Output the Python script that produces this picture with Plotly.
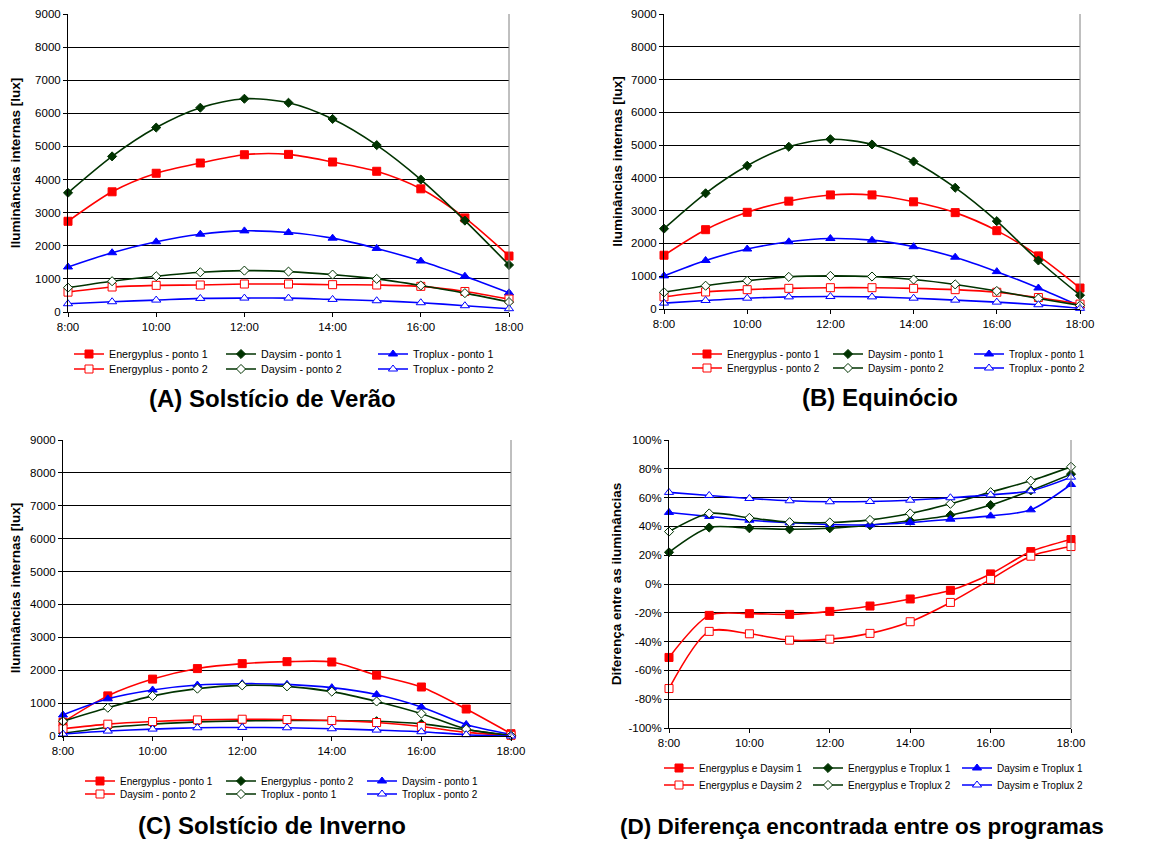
import plotly.graph_objects as go

# ---------------- data ----------------
hours = [8, 9, 10, 11, 12, 13, 14, 15, 16, 17, 18]
x_tickvals = [8, 10, 12, 14, 16, 18]
x_ticktext = ["8:00", "10:00", "12:00", "14:00", "16:00", "18:00"]
lux_ticks = [0, 1000, 2000, 3000, 4000, 5000, 6000, 7000, 8000, 9000]
pct_ticks = [-100, -80, -60, -40, -20, 0, 20, 40, 60, 80, 100]
pct_ticktext = ["-100%", "-80%", "-60%", "-40%", "-20%", "0%", "20%", "40%", "60%", "80%", "100%"]

# (A) Solstício de Verão
a_names = ["Energyplus - ponto 1", "Daysim - ponto 1", "Troplux - ponto 1",
           "Energyplus - ponto 2", "Daysim - ponto 2", "Troplux - ponto 2"]
a_energyplus_p1 = [2740, 3630, 4190, 4500, 4750, 4760, 4530, 4250, 3720, 2840, 1690]
a_daysim_p1 = [3600, 4700, 5570, 6170, 6440, 6320, 5830, 5040, 4000, 2760, 1420]
a_troplux_p1 = [1360, 1790, 2120, 2350, 2450, 2400, 2230, 1920, 1540, 1080, 580]
a_energyplus_p2 = [600, 755, 805, 815, 845, 845, 825, 815, 775, 620, 390]
a_daysim_p2 = [735, 930, 1080, 1200, 1250, 1220, 1130, 1000, 800, 570, 300]
a_troplux_p2 = [250, 310, 360, 410, 420, 420, 380, 340, 280, 190, 100]

# (B) Equinócio
b_names = a_names
b_energyplus_p1 = [1640, 2420, 2950, 3290, 3480, 3480, 3270, 2940, 2390, 1620, 640]
b_daysim_p1 = [2450, 3530, 4370, 4950, 5180, 5020, 4500, 3700, 2680, 1480, 420]
b_troplux_p1 = [1010, 1480, 1830, 2050, 2150, 2100, 1900, 1580, 1140, 640, 90]
b_energyplus_p2 = [370, 520, 590, 630, 650, 650, 630, 590, 510, 350, 150]
b_daysim_p2 = [510, 710, 860, 980, 1010, 990, 900, 750, 550, 320, 110]
b_troplux_p2 = [180, 260, 330, 370, 380, 370, 330, 270, 210, 130, 20]

# (C) Solstício de Inverno
c_names = ["Energyplus - ponto 1", "Energyplus - ponto 2", "Daysim - ponto 1",
           "Daysim - ponto 2", "Troplux - ponto 1", "Troplux - ponto 2"]
c_energyplus_p1 = [420, 1220, 1730, 2050, 2200, 2260, 2250, 1850, 1490, 820, 70]
c_energyplus_p2 = [80, 260, 360, 430, 460, 470, 470, 450, 370, 190, 20]
c_daysim_p1 = [640, 1130, 1400, 1550, 1590, 1570, 1470, 1260, 880, 350, 50]
c_daysim_p2 = [220, 360, 440, 490, 510, 500, 470, 410, 290, 110, 20]
c_troplux_p1 = [450, 860, 1220, 1440, 1540, 1510, 1350, 1050, 680, 210, 10]
c_troplux_p2 = [60, 150, 210, 250, 260, 250, 220, 180, 130, 40, 0]

# (D) Diferença encontrada entre os programas (%)
d_names = ["Energyplus e Daysim 1", "Energyplus e Troplux 1", "Daysim e Troplux 1",
           "Energyplus e Daysim 2", "Energyplus e Troplux 2", "Daysim e Troplux 2"]
d_ep_daysim_1 = [-51.0, -21.8, -20.6, -21.1, -19.0, -15.3, -10.4, -4.4, 7.0, 22.5, 30.9]
d_ep_troplux_1 = [22.0, 39.2, 38.7, 38.0, 38.7, 40.8, 43.9, 47.8, 54.8, 65.0, 76.3]
d_daysim_troplux_1 = [49.7, 46.9, 44.3, 42.5, 41.3, 41.1, 42.7, 45.0, 47.3, 51.5, 69.1]
d_ep_daysim_2 = [-72.6, -32.9, -34.6, -39.0, -38.3, -34.3, -26.2, -12.8, 3.2, 19.3, 26.0]
d_ep_troplux_2 = [36.4, 49.0, 45.9, 42.9, 42.7, 44.5, 49.0, 55.7, 63.8, 71.7, 81.4]
d_daysim_troplux_2 = [63.6, 61.5, 59.4, 57.8, 57.1, 57.3, 58.2, 59.9, 61.9, 64.7, 74.2]

# ---------------- styles ----------------
RED = "#FF0000"
GREEN = "#003300"
BLUE = "#0000FF"
FONT = "Arial, Liberation Sans, sans-serif"
PAGE_W, PAGE_H = 1160, 841
BODY = 8  # default page body margin around the plot div
W, H = PAGE_W - BODY, PAGE_H - BODY

STYLE_ROW1 = [(RED, "square", True), (GREEN, "diamond", True), (BLUE, "triangle-up", True)]
STYLE_ROW2 = [(RED, "square", False), (GREEN, "diamond", False), (BLUE, "triangle-up", False)]
SYM_SIZE = {"square": 8, "diamond": 7, "triangle-up": 8}

fig = go.Figure()


def px_x(p):
    return (p - BODY) / W


def px_y(p):
    return 1 - (p - BODY) / H


panels = [
    dict(xa="x", ya="y", rect=(68, 14, 509, 312), names=a_names,
         series=[a_energyplus_p1, a_daysim_p1, a_troplux_p1, a_energyplus_p2, a_daysim_p2, a_troplux_p2],
         leg=(110, 354, 369, 152, 10.7), title="(A) Solstício de Verão", tpos=(272, 398), tsize=24,
         pct=False, standoff=18),
    dict(xa="x2", ya="y2", rect=(664, 14, 1080, 309), names=b_names,
         series=[b_energyplus_p1, b_daysim_p1, b_troplux_p1, b_energyplus_p2, b_daysim_p2, b_troplux_p2],
         leg=(728, 354, 368, 141, 10), title="(B) Equinócio", tpos=(880, 397), tsize=24,
         pct=False, standoff=5),
    dict(xa="x3", ya="y3", rect=(63, 440, 511, 736), names=c_names,
         series=[c_energyplus_p1, c_energyplus_p2, c_daysim_p1, c_daysim_p2, c_troplux_p1, c_troplux_p2],
         leg=(121, 781, 794, 141, 10), title="(C) Solstício de Inverno", tpos=(272, 825), tsize=24,
         pct=False, standoff=16),
    dict(xa="x4", ya="y4", rect=(669, 440, 1071, 728), names=d_names,
         series=[d_ep_daysim_1, d_ep_troplux_1, d_daysim_troplux_1, d_ep_daysim_2, d_ep_troplux_2, d_daysim_troplux_2],
         leg=(700, 768, 785, 149, 10), title="(D) Diferença encontrada entre os programas", tpos=(862, 826),
         tsize=22.5, pct=True, standoff=3),
]

styles = STYLE_ROW1 + STYLE_ROW2
legend_counter = 1
layout_extra = {}
annotations = []
shapes = []

for i, p in enumerate(panels):
    l, t, r, b = p["rect"]
    text_x, row1y, row2y, spacing, lfs = p["leg"]
    leg_ids = []
    for row_y in (row1y, row2y):
        lid = "legend" if legend_counter == 1 else f"legend{legend_counter}"
        legend_counter += 1
        leg_ids.append(lid)
        layout_extra[lid] = dict(
            x=px_x(text_x - 41), y=px_y(row_y), xanchor="left", yanchor="middle",
            orientation="h", entrywidth=spacing - 45, entrywidthmode="pixels",
            itemwidth=30, tracegroupgap=0,
            font=dict(family=FONT, size=lfs, color="#000000"),
            bgcolor="rgba(0,0,0,0)", borderwidth=0,
        )
    for k, (name, vals) in enumerate(zip(p["names"], p["series"])):
        color, sym, filled = styles[k]
        fig.add_trace(go.Scatter(
            x=hours, y=vals, name=name, mode="lines+markers",
            xaxis=p["xa"], yaxis=p["ya"],
            line=dict(color=color, width=1.6, shape="spline", smoothing=0.8),
            marker=dict(symbol=sym, size=SYM_SIZE[sym],
                        color=color if filled else "#FFFFFF",
                        line=dict(color=color, width=1)),
            cliponaxis=False,
            legend=leg_ids[0] if k < 3 else leg_ids[1],
        ))
    sfx = "" if p["xa"] == "x" else p["xa"][1:]
    xkey = "xaxis" + sfx
    ykey = "yaxis" + sfx
    layout_extra[xkey] = dict(
        domain=[px_x(l), px_x(r)], anchor=p["ya"], range=[8, 18],
        tickvals=x_tickvals, ticktext=x_ticktext, ticks="outside", ticklen=4,
        tickcolor="#000000", showline=True, linecolor="#000000", linewidth=1,
        showgrid=False, zeroline=False, automargin=False,
        tickfont=dict(family=FONT, size=11.5, color="#000000"),
    )
    if p["pct"]:
        ytitle = "Diferença entre as iluminâncias"
        yticks = dict(tickvals=pct_ticks, ticktext=pct_ticktext, range=[-100, 100])
    else:
        ytitle = "Iluminâncias internas [lux]"
        yticks = dict(tickvals=lux_ticks, range=[0, 9000])
    layout_extra[ykey] = dict(
        domain=[px_y(b), px_y(t)], anchor=p["xa"], **yticks,
        ticks="outside", ticklen=4, tickcolor="#000000",
        showline=True, linecolor="#000000", linewidth=1,
        showgrid=True, gridcolor="#000000", gridwidth=1, zeroline=False,
        automargin=False,
        tickfont=dict(family=FONT, size=11.5, color="#000000"),
        title=dict(text="<b>" + ytitle + "</b>", font=dict(family=FONT, size=13.5, color="#000000"),
                   standoff=p["standoff"]),
    )
    shapes.append(dict(type="line", xref=p["xa"] + " domain", yref=p["ya"] + " domain",
                       x0=1, x1=1, y0=0, y1=1, line=dict(color="#808080", width=1)))
    tx, ty = p["tpos"]
    annotations.append(dict(text="<b>" + p["title"] + "</b>", xref="paper", yref="paper",
                            x=px_x(tx), y=px_y(ty), xanchor="center", yanchor="middle",
                            showarrow=False, font=dict(family=FONT, size=p["tsize"], color="#000000")))

fig.update_layout(
    width=W, height=H, margin=dict(l=0, r=0, t=0, b=0, autoexpand=False),
    paper_bgcolor="#FFFFFF", plot_bgcolor="#FFFFFF",
    showlegend=True, annotations=annotations, shapes=shapes,
    **layout_extra,
)

fig.write_html("out.html")
